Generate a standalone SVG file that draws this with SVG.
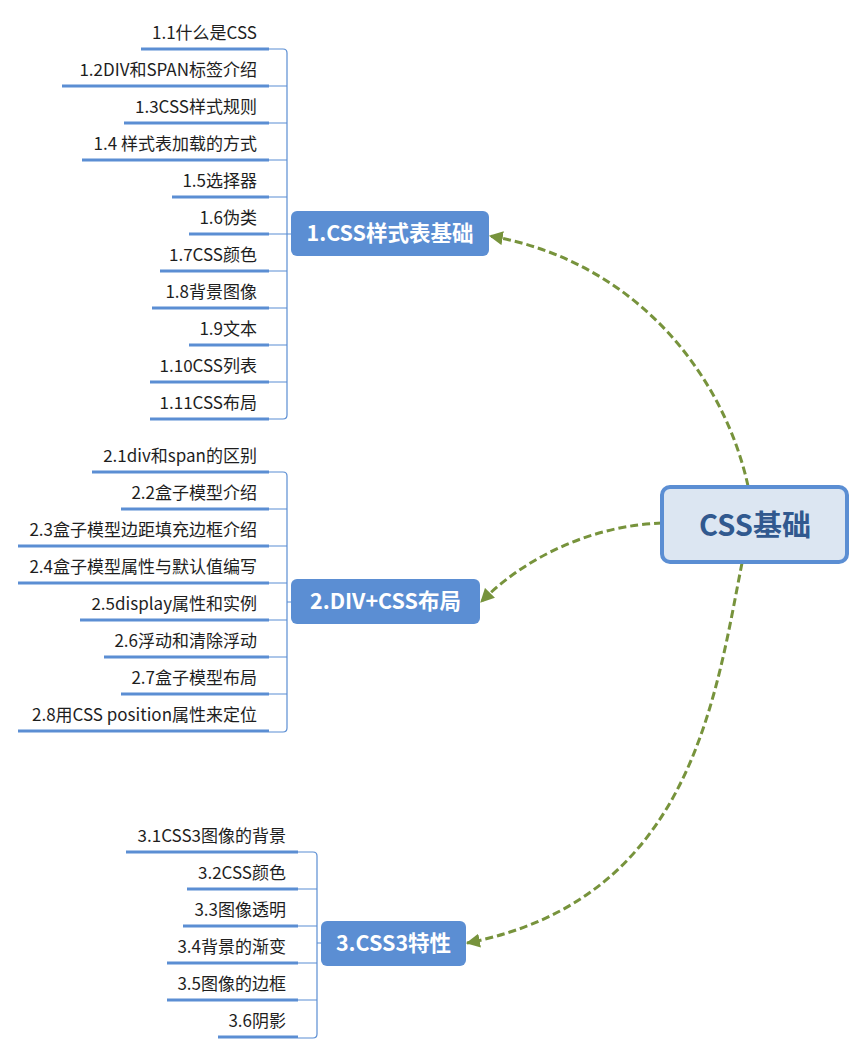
<svg xmlns="http://www.w3.org/2000/svg" width="866" height="1054" viewBox="0 0 866 1054">
<style>
.t{font-family:"Noto Sans CJK SC","Liberation Sans",sans-serif;font-size:17px;fill:#1e1e1e;text-anchor:end}
.ul{stroke:#5B8ED3;stroke-width:3;fill:none}
.br{stroke:#5B8ED3;stroke-width:1.2;fill:none}
.mn{fill:#5B8ED3}
.mt{font-family:"Noto Sans CJK SC","Liberation Sans",sans-serif;font-size:21.5px;font-weight:bold;fill:#fff;text-anchor:middle}
.cn{stroke:#77933C;stroke-width:3;stroke-dasharray:8 4;fill:none}
</style>
<defs>
<marker id="ah" viewBox="0 0 12 12" refX="11" refY="6" markerWidth="14" markerHeight="14" markerUnits="userSpaceOnUse" orient="auto">
<path d="M0,0 L12,6 L0,12 z" fill="#77933C"/>
</marker>
</defs>
<g id="connectors">
<path class="cn" d="M748,486 C725,380 640,262 490,236" marker-end="url(#ah)"/>
<path class="cn" d="M662,523 C600,525 530,552 481,602" marker-end="url(#ah)"/>
<path class="cn" d="M742,563 C715,700 690,900 467,943" marker-end="url(#ah)"/>
<path class="br" d="M269,49 H283 Q287,49 287,53 V415 Q287,419 283,419 H269 M269,86 H287 M269,123 H287 M269,160 H287 M269,197 H287 M269,234 H291 M269,271 H287 M269,308 H287 M269,345 H287 M269,382 H287"/>
<path class="br" d="M269,472 H283 Q287,472 287,476 V728 Q287,732 283,732 H269 M269,509 H287 M269,546 H287 M269,583 H287 M287,602 H291 M269,620 H287 M269,657 H287 M269,694 H287"/>
<path class="br" d="M298,852 H313 Q317,852 317,856 V1034 Q317,1038 313,1038 H298 M298,889 H317 M298,926 H317 M317,943 H321 M298,963 H317 M298,1000 H317"/>
</g>
<g id="center">
<rect x="662" y="487" width="185" height="75" rx="8" fill="#DCE6F2" stroke="#5B8ED3" stroke-width="4"/>
<text x="755" y="536" font-family="Noto Sans CJK SC,Liberation Sans,sans-serif" font-size="29" font-weight="bold" fill="#31598F" text-anchor="middle">CSS基础</text>
</g>
<g id="n1">
<rect class="mn" x="291" y="211" width="198" height="45" rx="6"/>
<text class="mt" x="390" y="241">1.CSS样式表基础</text>
</g>
<g id="n2">
<rect class="mn" x="291" y="579" width="189" height="45" rx="6"/>
<text class="mt" x="385.5" y="609">2.DIV+CSS布局</text>
</g>
<g id="n3">
<rect class="mn" x="321" y="921" width="145" height="45" rx="6"/>
<text class="mt" x="393.5" y="951">3.CSS3特性</text>
</g>
<g id="s1_1"><path class="ul" d="M141,49 H269"/><text class="t" x="257" y="39">1.1什么是CSS</text></g>
<g id="s1_2"><path class="ul" d="M62,86 H269"/><text class="t" x="257" y="76">1.2DIV和SPAN标签介绍</text></g>
<g id="s1_3"><path class="ul" d="M124,123 H269"/><text class="t" x="257" y="113">1.3CSS样式规则</text></g>
<g id="s1_4"><path class="ul" d="M82,160 H269"/><text class="t" x="257" y="150">1.4 样式表加载的方式</text></g>
<g id="s1_5"><path class="ul" d="M172,197 H269"/><text class="t" x="257" y="187">1.5选择器</text></g>
<g id="s1_6"><path class="ul" d="M189,234 H269"/><text class="t" x="257" y="224">1.6伪类</text></g>
<g id="s1_7"><path class="ul" d="M160,271 H269"/><text class="t" x="257" y="261">1.7CSS颜色</text></g>
<g id="s1_8"><path class="ul" d="M152,308 H269"/><text class="t" x="257" y="298">1.8背景图像</text></g>
<g id="s1_9"><path class="ul" d="M189,345 H269"/><text class="t" x="257" y="335">1.9文本</text></g>
<g id="s1_10"><path class="ul" d="M150,382 H269"/><text class="t" x="257" y="372">1.10CSS列表</text></g>
<g id="s1_11"><path class="ul" d="M150,419 H269"/><text class="t" x="257" y="409">1.11CSS布局</text></g>
<g id="s2_1"><path class="ul" d="M92,472 H269"/><text class="t" x="257" y="462">2.1div和span的区别</text></g>
<g id="s2_2"><path class="ul" d="M121,509 H269"/><text class="t" x="257" y="499">2.2盒子模型介绍</text></g>
<g id="s2_3"><path class="ul" d="M18,546 H269"/><text class="t" x="257" y="536">2.3盒子模型边距填充边框介绍</text></g>
<g id="s2_4"><path class="ul" d="M18,583 H269"/><text class="t" x="257" y="573">2.4盒子模型属性与默认值编写</text></g>
<g id="s2_5"><path class="ul" d="M80,620 H269"/><text class="t" x="257" y="610">2.5display属性和实例</text></g>
<g id="s2_6"><path class="ul" d="M104,657 H269"/><text class="t" x="257" y="647">2.6浮动和清除浮动</text></g>
<g id="s2_7"><path class="ul" d="M121,694 H269"/><text class="t" x="257" y="684">2.7盒子模型布局</text></g>
<g id="s2_8"><path class="ul" d="M18,731 H269"/><text class="t" x="257" y="721">2.8用CSS position属性来定位</text></g>
<g id="s3_1"><path class="ul" d="M126,852 H298"/><text class="t" x="286" y="842">3.1CSS3图像的背景</text></g>
<g id="s3_2"><path class="ul" d="M187,889 H298"/><text class="t" x="286" y="879">3.2CSS颜色</text></g>
<g id="s3_3"><path class="ul" d="M183,926 H298"/><text class="t" x="286" y="916">3.3图像透明</text></g>
<g id="s3_4"><path class="ul" d="M167,963 H298"/><text class="t" x="286" y="953">3.4背景的渐变</text></g>
<g id="s3_5"><path class="ul" d="M167,1000 H298"/><text class="t" x="286" y="990">3.5图像的边框</text></g>
<g id="s3_6"><path class="ul" d="M218,1037 H298"/><text class="t" x="286" y="1027">3.6阴影</text></g>
</svg>
